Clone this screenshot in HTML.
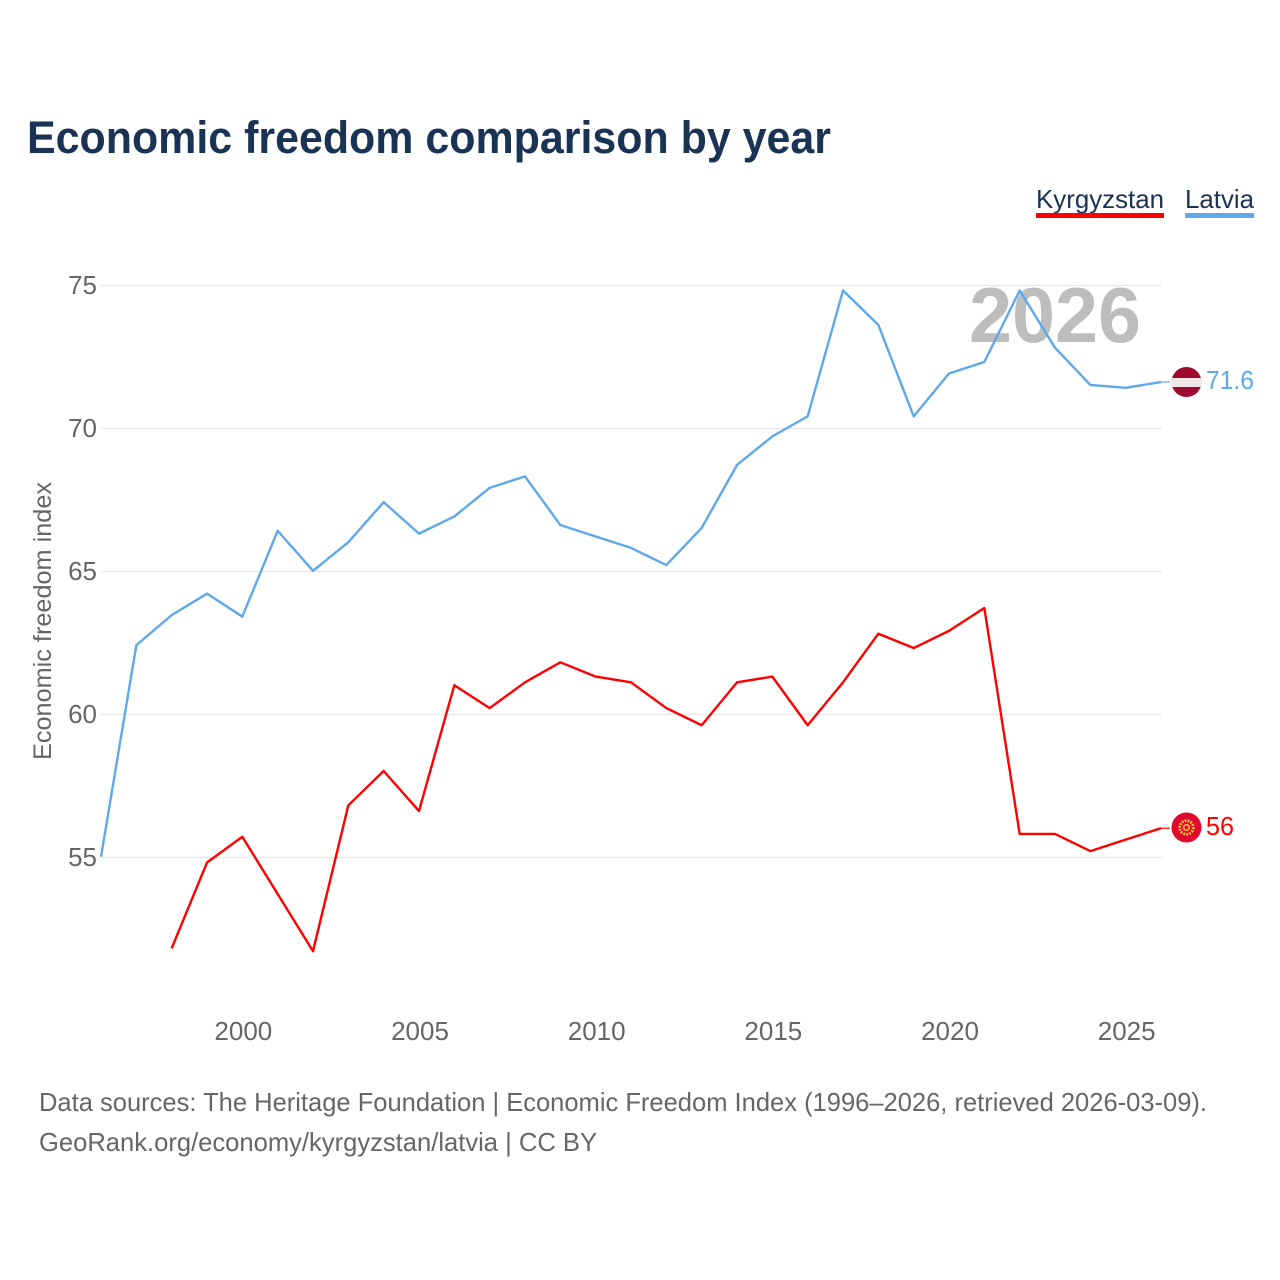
<!DOCTYPE html>
<html lang="en">
<head>
<meta charset="utf-8">
<title>Economic freedom comparison by year</title>
<style>
html,body{margin:0;padding:0;background:#fff;}
svg{display:block;font-family:"Liberation Sans",sans-serif;}
</style>
</head>
<body>
<svg id="chart" xmlns="http://www.w3.org/2000/svg" width="1280" height="1280" viewBox="0 0 1280 1280">
  <rect x="0" y="0" width="1280" height="1280" fill="#ffffff"/>
  <text x="27" y="153" font-size="45" font-weight="700" fill="#1a3253" textLength="804" lengthAdjust="spacingAndGlyphs">Economic freedom comparison by year</text>

  <g>
    <text x="1036" y="208" font-size="26" fill="#1a3253" textLength="128" lengthAdjust="spacingAndGlyphs">Kyrgyzstan</text>
    <rect x="1036" y="213" width="128" height="5" fill="#ff0000"/>
  </g>
  <g>
    <text x="1185" y="208" font-size="26" fill="#1a3253" textLength="69" lengthAdjust="spacingAndGlyphs">Latvia</text>
    <rect x="1185" y="213" width="69" height="5" fill="#5fa8ec"/>
  </g>

  <g id="grid"></g>
  <g id="yticks"></g>
  <g id="xticks"></g>
  <text transform="translate(51 760) rotate(-90)" x="0" y="0" font-size="25" fill="#666666" textLength="278" lengthAdjust="spacingAndGlyphs">Economic freedom index</text>

  <text x="969" y="342" font-size="78" font-weight="700" fill="#bdbdbd" textLength="172" lengthAdjust="spacingAndGlyphs">2026</text>

  <g id="series"></g>

  <g id="flag-latvia">
    <clipPath id="clip-lv"><circle cx="1186.5" cy="382" r="15"/></clipPath>
    <circle cx="1186.5" cy="382" r="15" fill="#9e0b2e"/>
    <rect x="1170" y="378" width="33" height="9" fill="#efe6e8" clip-path="url(#clip-lv)"/>
  </g>
  <g id="flag-kyrgyzstan">
    <circle cx="1186.5" cy="827.5" r="15" fill="#e0082d"/>
    <circle cx="1186.5" cy="827.5" r="6.8" fill="none" stroke="#f5c83c" stroke-width="2.8" stroke-dasharray="1.8 1.2"/>
    <circle cx="1186.5" cy="827.5" r="3.6" fill="#f5c83c"/>
    <circle cx="1186.5" cy="827.5" r="2" fill="#e0082d"/>
  </g>

  <text x="39" y="1111" font-size="26" fill="#666666" textLength="1168" lengthAdjust="spacingAndGlyphs">Data sources: The Heritage Foundation | Economic Freedom Index (1996–2026, retrieved 2026-03-09).</text>
  <text x="39" y="1151" font-size="26" fill="#666666" textLength="558" lengthAdjust="spacingAndGlyphs">GeoRank.org/economy/kyrgyzstan/latvia | CC BY</text>
</svg>
<script>
const years = [1996,1997,1998,1999,2000,2001,2002,2003,2004,2005,2006,2007,2008,2009,2010,2011,2012,2013,2014,2015,2016,2017,2018,2019,2020,2021,2022,2023,2024,2025,2026];
const latviaValues = [55,62.4,63.45,64.2,63.4,66.4,65,66,67.4,66.3,66.9,67.9,68.3,66.6,66.2,65.8,65.2,66.5,68.7,69.7,70.4,74.8,73.6,70.4,71.9,72.3,74.8,72.8,71.5,71.4,71.6];
const kyrgyzstanValues = [null,null,51.8,54.8,55.7,53.7,51.7,56.8,58,56.6,61,60.2,61.1,61.8,61.3,61.1,60.2,59.6,61.1,61.3,59.6,61.1,62.8,62.3,62.9,63.7,55.8,55.8,55.2,55.6,56];
const yTickValues = [55,60,65,70,75];
const xTickValues = [2000,2005,2010,2015,2020,2025];

const NS = 'http://www.w3.org/2000/svg';
function xScale(year){ return 101 + (year - 1996) * (1161 - 101) / 30; }
function yScale(value){ return 857.5 - (value - 55) * 28.6; }
function make(tag, attrs, parent){
  const el = document.createElementNS(NS, tag);
  for (const k in attrs) el.setAttribute(k, attrs[k]);
  parent.appendChild(el);
  return el;
}

const grid = document.getElementById('grid');
const yticks = document.getElementById('yticks');
yTickValues.forEach(function(v){
  const line = make('line', {x1:101, x2:1162, y1:yScale(v), y2:yScale(v), stroke:'#e8e8e8', 'stroke-width':1.2}, grid);
  
  
  const t = make('text', {x:97, y:yScale(v) + 8.5, 'text-anchor':'end', 'font-size':26, fill:'#666666'}, yticks);
  
  
  t.textContent = String(v);
});

const xticks = document.getElementById('xticks');
xTickValues.forEach(function(v){
  const t = make('text', {x:xScale(v) + 1, y:1040, 'text-anchor':'middle', 'font-size':26, fill:'#666666'}, xticks);
  
  
  t.textContent = String(v);
});

const series = document.getElementById('series');
function drawSeries(name, values, color, labelWidth){
  let pts = [], last = null;
  values.forEach(function(v, i){
    if (v === null) return;
    const py = yScale(v) - 0.7;
    pts.push(xScale(years[i]).toFixed(2) + ',' + py.toFixed(2));
    last = {x:xScale(years[i]), y:py, v:v};
  });
  const line = make('polyline', {points:pts.join(' '), fill:'none', stroke:color, 'stroke-width':2.4, 'stroke-linejoin':'round'}, series);
  
  
  const conn = make('line', {x1:last.x, x2:last.x + 9, y1:last.y, y2:last.y, stroke:color, 'stroke-width':1.2}, series);
  
  
  const label = make('text', {x:1206, y:last.y + 7, 'font-size':26, fill:color, textLength:labelWidth, lengthAdjust:'spacingAndGlyphs'}, series);
  
  
  label.textContent = String(last.v);
}
drawSeries('kyrgyzstan', kyrgyzstanValues, '#ff0000', 28);
drawSeries('latvia', latviaValues, '#5fa8ec', 48);
</script>
</body>
</html>
